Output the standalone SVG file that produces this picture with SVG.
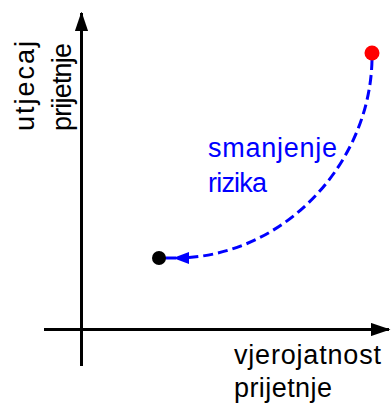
<svg xmlns="http://www.w3.org/2000/svg" width="391" height="403" viewBox="0 0 391 403">
<style>
.lbl{font-family:"Liberation Sans",Arial,sans-serif;font-size:27px;fill:#000}
.blue{fill:#0000ff}
.axis{stroke:#000;stroke-width:3;fill:none}
</style>
<defs>
<marker id="ah" markerWidth="6.5" markerHeight="4.4" refX="6" refY="2.2" orient="auto" markerUnits="strokeWidth">
<path d="M0,0 L6.5,2.2 L0,4.4 Z" fill="#000"/>
</marker>
</defs>
<rect width="391" height="403" fill="#fff"/>
<g id="axes">
<line class="axis" x1="81.5" y1="366" x2="81.5" y2="13" marker-end="url(#ah)"/>
<line class="axis" x1="44" y1="329.5" x2="389" y2="329.5" marker-end="url(#ah)"/>
</g>
<g id="labels">
<text class="lbl" transform="translate(34,131) rotate(-90)" textLength="90" lengthAdjust="spacing">utjecaj</text>
<text class="lbl" transform="translate(71,131) rotate(-90)" textLength="88" lengthAdjust="spacing">prijetnje</text>
<text class="lbl" x="234" y="364" textLength="147" lengthAdjust="spacing">vjerojatnost</text>
<text class="lbl" x="234" y="397" textLength="98" lengthAdjust="spacing">prijetnje</text>
</g>
<g id="connectors">
<path d="M372,60 C370,160 290,250 189,257.5" fill="none" stroke="#0000ff" stroke-width="3" stroke-dasharray="10,5"/>
<line x1="160" y1="258" x2="176" y2="258" stroke="#0000ff" stroke-width="3"/>
<path d="M173,258 L189,252 L189,264 Z" fill="#0000ff"/>
</g>
<g id="start-point"><circle cx="372" cy="53" r="7.5" fill="#ff0000"/></g>
<g id="end-point"><circle cx="159" cy="258" r="7" fill="#000"/></g>
<g id="reduction-label">
<text class="lbl blue" x="208" y="157" textLength="129" lengthAdjust="spacing">smanjenje</text>
<text class="lbl blue" x="208" y="192" textLength="59" lengthAdjust="spacing">rizika</text>
</g>
</svg>
